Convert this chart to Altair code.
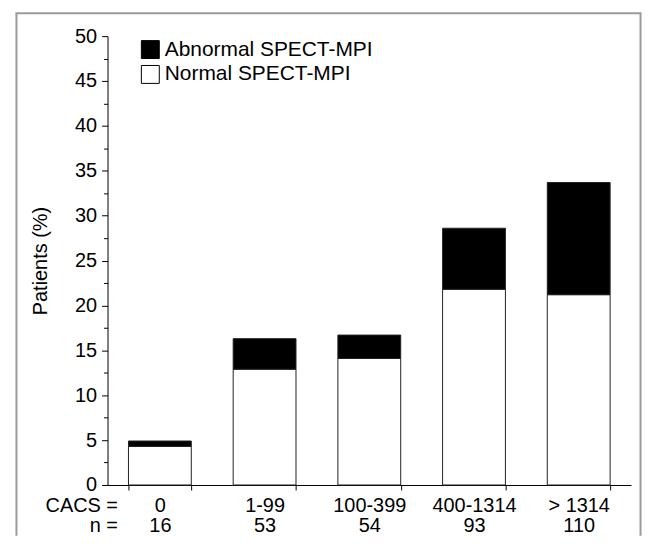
import altair as alt
import pandas as pd

# ---- data ----
categories = ["0", "1-99", "100-399", "400-1314", "> 1314"]
n_patients = [16, 53, 54, 93, 110]
normal_pct = [4.3, 12.9, 14.1, 21.8, 21.2]
abnormal_pct = [0.6, 3.4, 2.6, 6.8, 12.5]
series = ["Abnormal SPECT-MPI", "Normal SPECT-MPI"]
y_ticks = [i * 2.5 for i in range(21)]

rows = []
for c, n, nv, av in zip(categories, n_patients, normal_pct, abnormal_pct):
    key = f"{c}|{n}"
    rows.append({"cat": key, "series": series[1], "value": nv, "ord": 0})
    rows.append({"cat": key, "series": series[0], "value": av, "ord": 1})
df = pd.DataFrame(rows)
cat_order = [f"{c}|{n}" for c, n in zip(categories, n_patients)]

FONT = "Liberation Sans"
FS = 20
W, H = 526, 451
FRAME = "#9a9a9a"

bars = alt.Chart(df).mark_bar(stroke="#222222", strokeWidth=1).encode(
    x=alt.X(
        "cat:N",
        sort=cat_order,
        title=None,
        scale=alt.Scale(paddingInner=0.4, paddingOuter=0.2),
        axis=alt.Axis(
            labelExpr="isString(datum.value) ? split(datum.value, '|') : ''",
            labelAngle=0,
            tickBand="extent",
            tickSize=5,
            labelPadding=6,
            labelLineHeight=20,
            labelOverlap=False,
        ),
    ),
    y=alt.Y(
        "value:Q",
        stack="zero",
        title="Patients (%)",
        scale=alt.Scale(domain=[0, 50], nice=False),
        axis=alt.Axis(
            values=y_ticks,
            labelExpr="datum.value % 5 === 0 ? datum.label : ''",
            tickSize={"condition": {"test": "datum.value % 5 !== 0", "value": 4}, "value": 6},
            labelPadding=5,
            titlePadding=24,
        ),
    ),
    color=alt.Color(
        "series:N",
        scale=alt.Scale(domain=series, range=["black", "white"]),
        legend=alt.Legend(
            title=None,
            orient="none",
            legendX=32.5,
            legendY=3,
            symbolType="square",
            symbolSize=324,
            symbolStrokeColor="black",
            symbolStrokeWidth=1,
            labelFont=FONT,
            labelFontSize=21,
            labelColor="black",
            labelOffset=4,
            rowPadding=2,
            labelLimit=400,
        ),
    ),
    order=alt.Order("ord:Q"),
)

one = pd.DataFrame({"k": [0]})
frame_left = alt.Chart(one).mark_rule(color=FRAME, strokeWidth=2).encode(
    x=alt.value(-91.5), y=alt.value(-23), y2=alt.value(502)
)
frame_top = alt.Chart(one).mark_rule(color=FRAME, strokeWidth=2).encode(
    x=alt.value(-92.5), x2=alt.value(536.5), y=alt.value(-23)
)
frame_right = alt.Chart(one).mark_rule(color=FRAME, strokeWidth=2).encode(
    x=alt.value(535.5), y=alt.value(-23), y2=alt.value(502)
)

cacs_label = alt.Chart(one).mark_text(
    text="CACS =", align="right", baseline="alphabetic", font=FONT, fontSize=FS, color="black"
).encode(x=alt.value(10.5), y=alt.value(478))
n_label = alt.Chart(one).mark_text(
    text="n =", align="right", baseline="alphabetic", font=FONT, fontSize=FS, color="black"
).encode(x=alt.value(10.5), y=alt.value(498))

chart = (
    alt.layer(frame_left, frame_top, frame_right, bars, cacs_label, n_label)
    .properties(width=W, height=H, padding={"left": 6, "top": 3, "right": 0, "bottom": 0})
    .configure_view(stroke=None)
    .configure_axis(
        labelFont=FONT,
        labelFontSize=FS,
        labelColor="black",
        titleFont=FONT,
        titleFontSize=FS,
        titleFontWeight="normal",
        titleColor="black",
        domainColor="black",
        tickColor="black",
        grid=False,
    )
)

chart.save("out.html", embed_options={"renderer": "svg", "actions": False})
